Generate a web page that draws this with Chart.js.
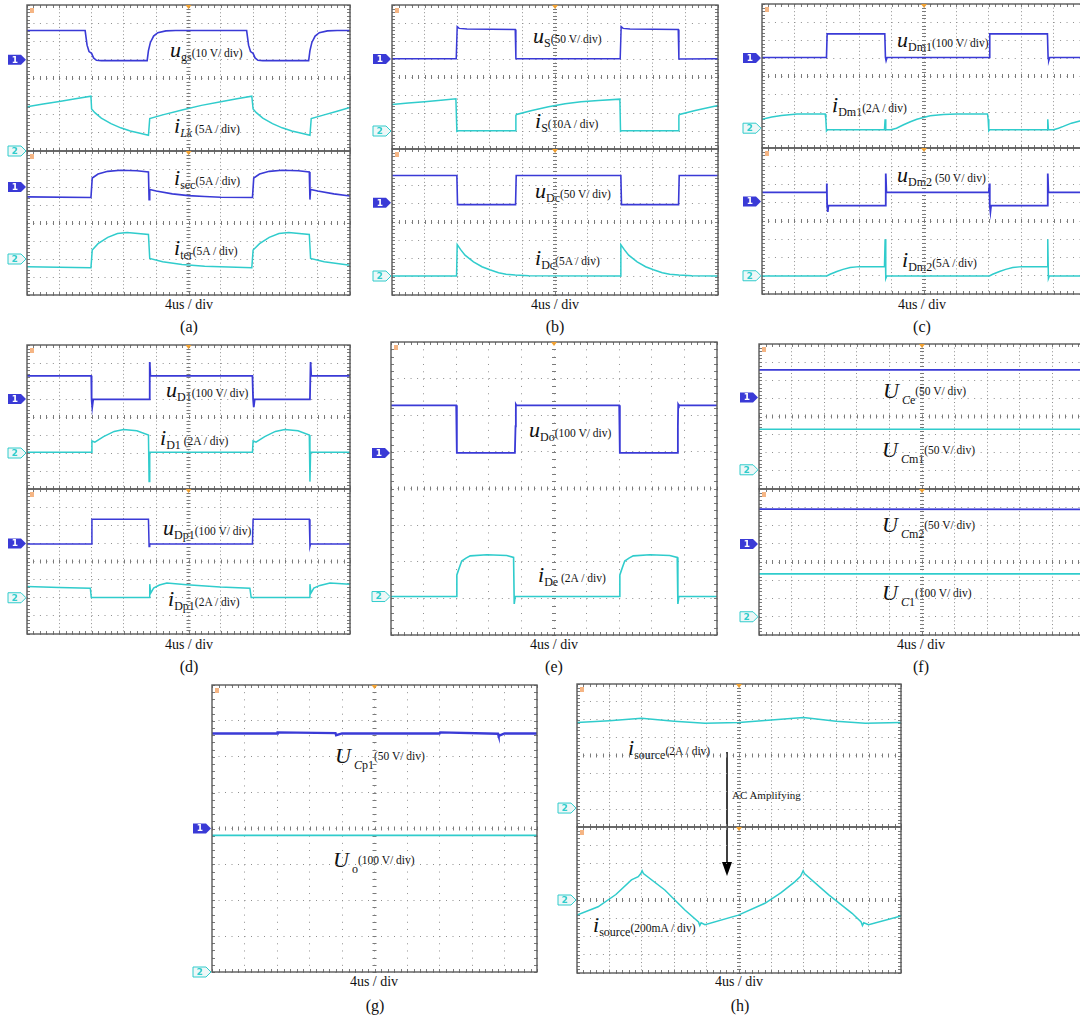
<!DOCTYPE html>
<html lang="en">
<head>
<meta charset="UTF-8">
<title>Experimental waveforms</title>
<script src="https://cdn.jsdelivr.net/npm/chart.js"></script>
<style>
  body { margin:0; width:1080px; height:1020px; overflow:hidden; background:#fff; position:relative; font-family:'Liberation Serif','Times New Roman',serif; color:#111; }
  canvas { position:absolute; }
  .lbl { position:absolute; font-size:22px; line-height:22px; white-space:nowrap; }
  .lbl i { font-style:italic; }
  .lbl sub { font-size:12px; line-height:0; vertical-align:-4px; }
  .lbl .u { font-size:11.5px; line-height:0; }
  .lbl.hi sub { vertical-align:-6px; }
  .lbl.hi .u { vertical-align:3px; }
  .cap { position:absolute; width:120px; margin-left:-60px; text-align:center; font-size:14px; line-height:14px; }
  .tag { font-size:16px; line-height:16px; }
  .note { position:absolute; font-size:11px; line-height:11px; white-space:nowrap; }
  svg { position:absolute; overflow:visible; }
</style>
</head>
<body>

<!-- trace labels -->
<div class="lbl" style="left:170px;top:39px"><i>u</i><sub>gs</sub><span class="u">(10 V/ div)</span></div>
<div class="lbl" style="left:174px;top:115px"><i>i</i><sub><i>Lk</i></sub><span class="u"> (5A / div)</span></div>
<div class="lbl" style="left:174px;top:167px"><i>i</i><sub>sec</sub><span class="u">(5A / div)</span></div>
<div class="lbl" style="left:174px;top:237px"><i>i</i><sub>ter</sub><span class="u">(5A / div)</span></div>

<div class="lbl" style="left:533px;top:25px"><i>u</i><sub>S</sub><span class="u">(50 V/ div)</span></div>
<div class="lbl" style="left:535px;top:110px"><i>i</i><sub>S</sub><span class="u">(10A / div)</span></div>
<div class="lbl" style="left:535px;top:180px"><i>u</i><sub>Dc</sub><span class="u">(50 V/ div)</span></div>
<div class="lbl" style="left:535px;top:247px"><i>i</i><sub>Dc</sub><span class="u">(5A / div)</span></div>

<div class="lbl" style="left:897px;top:29px"><i>u</i><sub>Dm1</sub><span class="u">(100 V/ div)</span></div>
<div class="lbl" style="left:832px;top:94px"><i>i</i><sub>Dm1</sub><span class="u">(2A / div)</span></div>
<div class="lbl" style="left:897px;top:164px"><i>u</i><sub>Dm2</sub><span class="u"> (50 V/ div)</span></div>
<div class="lbl" style="left:902px;top:249px"><i>i</i><sub>Dm2</sub><span class="u">(5A / div)</span></div>

<div class="lbl" style="left:166px;top:379px"><i>u</i><sub>D1</sub><span class="u">(100 V/ div)</span></div>
<div class="lbl" style="left:160px;top:427px"><i>i</i><sub>D1</sub><span class="u"> (2A / div)</span></div>
<div class="lbl" style="left:163px;top:517px"><i>u</i><sub>Dp1</sub><span class="u">(100 V/ div)</span></div>
<div class="lbl" style="left:168px;top:588px"><i>i</i><sub>Dp1</sub><span class="u">(2A / div)</span></div>

<div class="lbl" style="left:529px;top:419px"><i>u</i><sub>Do</sub><span class="u">(100 V/ div)</span></div>
<div class="lbl" style="left:538px;top:564px"><i>i</i><sub>De</sub><span class="u"> (2A / div)</span></div>

<div class="lbl hi" style="left:883px;top:380px"><i>U</i><sub>&nbsp;<i>C</i>e</sub><span class="u">(50 V/ div)</span></div>
<div class="lbl hi" style="left:882px;top:439px"><i>U</i><sub>&nbsp;<i>C</i>m1</sub><span class="u">(50 V/ div)</span></div>
<div class="lbl hi" style="left:882px;top:514px"><i>U</i><sub>&nbsp;<i>C</i>m2</sub><span class="u">(50 V/ div)</span></div>
<div class="lbl hi" style="left:882px;top:582px"><i>U</i><sub>&nbsp;<i>C</i>1</sub><span class="u">(100 V/ div)</span></div>

<div class="lbl hi" style="left:335px;top:745px"><i>U</i><sub>&nbsp;<i>C</i>p1</sub><span class="u">(50 V/ div)</span></div>
<div class="lbl hi" style="left:333px;top:849px"><i>U</i><sub>&nbsp;o</sub><span class="u">(100 V/ div)</span></div>

<div class="lbl" style="left:628px;top:737px"><i>i</i><sub>source</sub><span class="u">(2A / div)</span></div>
<div class="lbl" style="left:593px;top:914px"><i>i</i><sub>source</sub><span class="u">(200mA / div)</span></div>

<div class="note" style="left:732px;top:790px">AC Amplifying</div>
<svg style="left:0;top:0" width="1" height="1">
  <line x1="727" y1="752" x2="727" y2="864" stroke="#000" stroke-width="1.5"/>
  <polygon points="722,862 732,862 727,876" fill="#000"/>
</svg>

<!-- time base and panel tags -->
<div class="cap" style="left:189px;top:298px">4us / div</div>
<div class="cap" style="left:555px;top:298px">4us / div</div>
<div class="cap" style="left:922px;top:298px">4us / div</div>
<div class="cap" style="left:189px;top:638px">4us / div</div>
<div class="cap" style="left:554px;top:638px">4us / div</div>
<div class="cap" style="left:921px;top:638px">4us / div</div>
<div class="cap" style="left:374px;top:975px">4us / div</div>
<div class="cap" style="left:739px;top:975px">4us / div</div>

<div class="cap tag" style="left:189px;top:319px">(a)</div>
<div class="cap tag" style="left:555px;top:319px">(b)</div>
<div class="cap tag" style="left:922px;top:319px">(c)</div>
<div class="cap tag" style="left:189px;top:659px">(d)</div>
<div class="cap tag" style="left:554px;top:659px">(e)</div>
<div class="cap tag" style="left:921px;top:659px">(f)</div>
<div class="cap tag" style="left:375px;top:998px">(g)</div>
<div class="cap tag" style="left:740px;top:998px">(h)</div>

<script>
const ugs = [[0,6.6],[1.8,6.6],[1.86,5.8],[1.92,5.45],[2.0,5.35],[2.06,5.1],[2.15,4.97],[2.3,4.95],[3.72,4.95],[3.76,5.5],[3.82,5.95],[3.92,6.3],[4.05,6.48],[4.3,6.58],[4.6,6.6],[6.8,6.6],[6.86,5.8],[6.92,5.45],[7.0,5.35],[7.06,5.1],[7.15,4.97],[7.3,4.95],[8.72,4.95],[8.76,5.5],[8.82,5.95],[8.92,6.3],[9.05,6.48],[9.3,6.58],[9.6,6.6],[10,6.6]];
const iLk = [[0,2.42],[0.5,2.57],[1.0,2.71],[1.5,2.86],[1.98,3.0],[2.0,2.3],[2.1,2.1],[2.3,1.8],[2.6,1.5],[2.9,1.27],[3.2,1.1],[3.5,0.97],[3.76,0.86],[3.8,1.78],[4.2,1.98],[4.8,2.25],[5.4,2.5],[6.0,2.7],[6.5,2.86],[6.96,3.0],[7.0,2.3],[7.1,2.1],[7.3,1.8],[7.6,1.5],[7.9,1.27],[8.2,1.1],[8.5,0.97],[8.76,0.86],[8.8,1.78],[9.2,1.98],[9.6,2.18],[10,2.38]];
const isec = [[0,5.45],[1.98,5.42],[2.02,6.5],[2.2,6.72],[2.5,6.87],[2.9,6.93],[3.4,6.9],[3.76,6.84],[3.78,5.3],[3.8,5.86],[4.0,5.78],[4.5,5.62],[5.0,5.52],[5.5,5.47],[6.0,5.43],[6.98,5.42],[7.02,6.5],[7.2,6.72],[7.5,6.87],[7.9,6.93],[8.4,6.9],[8.74,6.84],[8.76,5.3],[8.78,5.86],[9.0,5.78],[9.5,5.62],[10,5.5]];
const iter = [[0,1.57],[1.98,1.52],[2.02,2.5],[2.2,2.85],[2.5,3.2],[2.8,3.42],[3.1,3.47],[3.76,3.36],[3.8,2.03],[4.2,1.85],[4.8,1.7],[5.5,1.6],[6.96,1.52],[7.0,2.5],[7.2,2.85],[7.5,3.2],[7.8,3.42],[8.1,3.47],[8.74,3.36],[8.78,2.03],[9.2,1.85],[10,1.65]];

const uS = [[0,5.02],[1.97,5.02],[2.0,6.8],[2.06,6.7],[2.3,6.66],[3.78,6.64],[3.8,5.02],[7.0,5.02],[7.03,6.8],[7.09,6.7],[7.3,6.66],[8.78,6.64],[8.8,5.0],[10,5.02]];
const iS = [[0,2.47],[0.5,2.55],[1.0,2.63],[1.5,2.71],[1.96,2.79],[1.99,0.98],[2.05,1.02],[3.78,1.02],[3.8,1.86],[3.82,1.92],[4.29,2.14],[4.8,2.35],[5.31,2.51],[5.8,2.62],[6.33,2.7],[6.99,2.77],[7.01,0.98],[7.05,1.02],[8.78,1.02],[8.8,1.86],[8.82,1.92],[9.3,2.14],[10,2.42]];
const uDc = [[0,6.55],[1.99,6.55],[2.01,4.95],[3.79,4.95],[3.81,6.55],[7.02,6.55],[7.04,4.95],[8.79,4.95],[8.81,6.55],[10,6.55]];
const iDc = [[0,1.04],[1.98,1.04],[2.0,2.76],[2.1,2.5],[2.24,2.18],[2.5,1.82],[2.76,1.55],[3.0,1.38],[3.27,1.22],[3.5,1.14],[3.78,1.09],[4.2,1.05],[7.0,1.04],[7.02,2.76],[7.12,2.5],[7.26,2.18],[7.52,1.82],[7.78,1.55],[8.02,1.38],[8.29,1.22],[8.52,1.14],[8.8,1.09],[9.2,1.05],[10,1.04]];

const uDm1 = [[0,5.03],[1.99,5.03],[2.01,6.34],[3.79,6.34],[3.81,5.03],[3.83,4.85],[3.86,5.03],[7.01,5.03],[7.03,6.34],[8.81,6.34],[8.83,5.03],[8.85,4.85],[8.88,5.03],[10,5.03]];
const iDm1 = [[0,1.6],[0.3,1.72],[0.6,1.8],[1.08,1.89],[1.95,1.89],[1.97,1.6],[1.99,0.95],[2.02,1.02],[3.78,1.02],[3.8,1.6],[3.82,1.02],[3.98,1.02],[4.15,1.1],[4.37,1.29],[4.58,1.46],[4.78,1.6],[5.19,1.79],[5.6,1.86],[6.01,1.89],[6.96,1.89],[6.98,1.6],[7.0,0.95],[7.03,1.02],[8.8,1.02],[8.82,1.6],[8.84,1.02],[9.0,1.02],[9.15,1.1],[9.3,1.2],[9.55,1.38],[9.81,1.5],[10,1.57]];
const uDm2 = [[0,5.57],[1.98,5.57],[2.0,6.05],[2.01,4.84],[2.03,4.5],[2.05,4.84],[3.8,4.84],[3.82,6.6],[3.84,5.57],[7.0,5.57],[7.02,6.05],[7.03,4.84],[7.05,4.5],[7.07,4.84],[8.8,4.84],[8.82,6.6],[8.84,5.57],[10,5.57]];
const iDm2 = [[0,0.99],[2.0,0.99],[2.1,1.08],[2.31,1.23],[2.5,1.35],[2.72,1.45],[3.0,1.5],[3.78,1.5],[3.8,3.0],[3.82,0.85],[3.85,0.99],[7.02,0.99],[7.12,1.08],[7.33,1.23],[7.52,1.35],[7.74,1.45],[8.02,1.5],[8.8,1.5],[8.82,3.0],[8.84,0.85],[8.87,0.99],[10,0.99]];

const uD1 = [[0,6.28],[1.99,6.28],[2.0,4.98],[2.02,4.55],[2.05,4.98],[3.78,4.98],[3.8,7.05],[3.82,6.28],[6.98,6.28],[7.0,4.98],[7.02,4.55],[7.05,4.98],[8.76,4.98],[8.78,7.05],[8.8,6.28],[10,6.28]];
const iD1 = [[0,2.04],[1.99,2.04],[2.01,2.67],[2.1,2.6],[2.37,2.91],[2.7,3.2],[2.99,3.31],[3.4,3.24],[3.76,3.0],[3.78,0.41],[3.8,2.04],[6.98,2.04],[7.0,2.67],[7.09,2.6],[7.36,2.91],[7.69,3.2],[7.98,3.31],[8.39,3.24],[8.74,3.0],[8.76,0.41],[8.78,2.04],[10,2.04]];
const uDp1 = [[0,4.97],[1.99,4.97],[2.01,6.33],[3.76,6.33],[3.78,4.83],[3.8,4.97],[6.98,4.97],[7.0,6.33],[8.74,6.33],[8.76,4.83],[8.78,4.97],[10,4.97]];
const iDp1 = [[0,2.62],[1.0,2.57],[1.96,2.53],[1.99,2.02],[3.78,2.02],[3.8,2.75],[3.83,2.25],[3.92,2.53],[4.1,2.7],[4.33,2.81],[4.95,2.72],[5.98,2.59],[6.9,2.53],[6.94,2.02],[8.74,2.02],[8.76,2.75],[8.79,2.25],[8.88,2.53],[9.07,2.68],[9.38,2.81],[10,2.75]];

const uDo = [[0,6.27],[2.0,6.27],[2.02,4.97],[3.8,4.97],[3.82,5.7],[3.83,6.3],[3.85,6.27],[7.0,6.27],[7.02,4.97],[8.78,4.97],[8.8,5.7],[8.81,6.3],[8.83,6.27],[10,6.27]];
const iDe = [[0,1.05],[2.0,1.05],[2.02,1.64],[2.1,1.85],[2.17,2.02],[2.3,2.1],[2.43,2.16],[2.94,2.19],[3.55,2.17],[3.76,2.12],[3.78,0.85],[3.81,1.05],[7.0,1.05],[7.02,1.64],[7.1,1.85],[7.17,2.02],[7.3,2.1],[7.43,2.16],[7.94,2.19],[8.55,2.17],[8.78,2.12],[8.8,0.85],[8.83,1.05],[10,1.05]];

const UCe  = [[0,6.57],[10,6.57]];
const UCm1 = [[0,3.3],[10,3.3]];
const UCm2 = [[0,6.9],[10,6.88]];
const UC1  = [[0,3.35],[10,3.35]];

const UCp1 = [[0,6.65],[2.0,6.65],[2.02,6.68],[3.8,6.66],[3.82,6.6],[4.0,6.65],[7.0,6.65],[7.02,6.68],[8.8,6.64],[8.82,6.58],[9.0,6.65],[10,6.65]];
const Uo   = [[0,3.81],[10,3.81]];

const isource   = [[0,5.84],[1.0,5.95],[1.99,6.08],[3.0,5.92],[3.95,5.8],[5.0,5.85],[6.0,5.98],[6.99,6.12],[8.0,5.92],[8.9,5.8],[10,5.84]];
const isourceAC = [[0,3.17],[0.65,3.63],[1.2,4.3],[1.68,5.1],[1.89,5.28],[1.97,5.45],[2.01,5.6],[2.05,5.45],[2.71,4.55],[3.33,3.45],[3.75,2.8],[3.79,2.6],[3.83,2.75],[3.95,2.65],[4.98,3.17],[5.8,3.82],[6.3,4.4],[6.73,5.01],[6.9,5.3],[6.98,5.6],[7.02,5.45],[7.77,4.28],[8.49,3.27],[8.77,2.8],[8.81,2.6],[8.85,2.75],[9.0,2.65],[10,3.12]];

const BLUE = '#3a3ad6';
const CYAN = '#30cccc';

// one scope screen per entry: frame position on the page, traces [data, colour, width], channel flags [channel, level]
const screens = [
  { left:27,  top:5,   w:323, h:146, traces:[[ugs,BLUE,1.6],[iLk,CYAN,1.5]],   flags:[[1,5],[2,0]] },
  { left:27,  top:151, w:323, h:144, traces:[[isec,BLUE,1.6],[iter,CYAN,1.5]], flags:[[1,6],[2,2]] },
  { left:392, top:5,   w:326, h:144, traces:[[uS,BLUE,1.5],[iS,CYAN,1.5]],     flags:[[1,5],[2,1]] },
  { left:392, top:149, w:326, h:146, traces:[[uDc,BLUE,1.6],[iDc,CYAN,1.5]],   flags:[[1,5.05],[2,1.04]] },
  { left:762, top:4,   w:324, h:144, traces:[[uDm1,BLUE,1.6],[iDm1,CYAN,1.5]], flags:[[1,5],[2,1.1]] },
  { left:762, top:148, w:324, h:146, traces:[[uDm2,BLUE,1.8],[iDm2,CYAN,1.5]], flags:[[1,5.07],[2,1]] },
  { left:27,  top:345, w:323, h:144, traces:[[uD1,BLUE,1.8],[iD1,CYAN,1.5]],   flags:[[1,5],[2,2]] },
  { left:27,  top:489, w:323, h:145, traces:[[uDp1,BLUE,1.5],[iDp1,CYAN,1.5]], flags:[[1,5],[2,2]] },
  { left:391, top:342, w:326, h:293, traces:[[uDo,BLUE,1.8],[iDe,CYAN,1.6]],   flags:[[1,4.97],[2,1.05]] },
  { left:759, top:344, w:326, h:145, traces:[[UCe,BLUE,1.6],[UCm1,CYAN,1.5]],  flags:[[1,5.05],[2,1.06]] },
  { left:759, top:489, w:326, h:146, traces:[[UCm2,BLUE,1.8],[UC1,CYAN,1.6]],  flags:[[1,4.98],[2,1]] },
  { left:212, top:685, w:325, h:287, traces:[[UCp1,BLUE,2.4],[Uo,CYAN,1.8]],   flags:[[1,4],[2,0]] },
  { left:577, top:684, w:324, h:143, traces:[[isource,CYAN,1.5]],              flags:[[2,1.06]] },
  { left:577, top:827, w:324, h:146, traces:[[isourceAC,CYAN,1.5]],            flags:[[2,4]] }
];

// frame, minor ticks, trigger marks and channel flags of a scope screen
const scopePlugin = {
  id: 'scope',
  beforeDatasetsDraw(chart) {
    const { ctx, chartArea: a, scales: { x, y } } = chart;
    const cx = x.getPixelForValue(5), cy = y.getPixelForValue(4);
    ctx.save();
    ctx.strokeStyle = '#7a7a7a';
    ctx.lineWidth = 1;
    ctx.beginPath();
    for (let i = 0; i <= 50; i++) {
      const px = Math.round(x.getPixelForValue(i / 5)) + 0.5;
      ctx.moveTo(px, cy - 2); ctx.lineTo(px, cy + 2);
      ctx.moveTo(px, a.top); ctx.lineTo(px, a.top + 3);
      ctx.moveTo(px, a.bottom); ctx.lineTo(px, a.bottom - 3);
    }
    for (let j = 0; j <= 40; j++) {
      const py = Math.round(y.getPixelForValue(j / 5)) + 0.5;
      ctx.moveTo(cx - 2, py); ctx.lineTo(cx + 2, py);
      ctx.moveTo(a.left, py); ctx.lineTo(a.left + 3, py);
      ctx.moveTo(a.right, py); ctx.lineTo(a.right - 3, py);
    }
    ctx.stroke();
    ctx.restore();
  },
  afterDatasetsDraw(chart, args, opts) {
    const { ctx, chartArea: a, scales: { y } } = chart;
    ctx.save();
    ctx.strokeStyle = '#5a5a5a';
    ctx.lineWidth = 1.4;
    ctx.strokeRect(a.left, a.top, a.right - a.left, a.bottom - a.top);

    // trigger position and reference marker
    const cx = (a.left + a.right) / 2;
    ctx.fillStyle = '#f0a030';
    ctx.beginPath();
    ctx.moveTo(cx - 3, a.top); ctx.lineTo(cx + 3, a.top); ctx.lineTo(cx, a.top + 4);
    ctx.fill();
    ctx.fillStyle = '#f5b584';
    ctx.fillRect(a.left + 3, a.top + 3, 4, 5);

    (opts.flags || []).forEach(([ch, lvl]) => {
      const py = y.getPixelForValue(lvl), L = a.left;
      ctx.beginPath();
      ctx.moveTo(L - 19, py - 5); ctx.lineTo(L - 6, py - 5); ctx.lineTo(L - 1, py);
      ctx.lineTo(L - 6, py + 5); ctx.lineTo(L - 19, py + 5); ctx.closePath();
      if (ch === 1) {
        ctx.fillStyle = BLUE; ctx.fill();
        ctx.fillStyle = '#fff';
      } else {
        ctx.fillStyle = '#eef7f7'; ctx.fill();
        ctx.strokeStyle = CYAN; ctx.lineWidth = 1; ctx.stroke();
        ctx.fillStyle = CYAN;
      }
      ctx.font = 'bold 9px "DejaVu Sans"';
      ctx.textAlign = 'center';
      ctx.textBaseline = 'middle';
      ctx.fillText(String(ch), L - 12, py + 0.5);
    });
    ctx.restore();
  }
};

const toXY = arr => arr.map(p => ({ x: p[0], y: p[1] }));

screens.forEach(s => {
  const padL = 22, padR = 8, padT = 6, padB = 6;
  const cv = document.createElement('canvas');
  cv.width = s.w + padL + padR;
  cv.height = s.h + padT + padB;
  cv.style.left = (s.left - padL) + 'px';
  cv.style.top = (s.top - padT) + 'px';
  document.body.appendChild(cv);

  const dotX = s.w / 50, dotY = s.h / 40;
  new Chart(cv, {
    type: 'line',
    data: {
      datasets: s.traces.map(([d, c, lw]) => ({
        data: toXY(d), borderColor: c, borderWidth: lw,
        pointRadius: 0, tension: 0, fill: false
      }))
    },
    options: {
      responsive: false,
      animation: false,
      events: [],
      layout: { padding: { left: padL, right: padR, top: padT, bottom: padB } },
      plugins: { legend: { display: false }, tooltip: { enabled: false }, scope: { flags: s.flags } },
      scales: {
        x: { type: 'linear', min: 0, max: 10, ticks: { stepSize: 1, display: false },
             grid: { color: '#8f8f8f', drawTicks: false }, border: { display: false, dash: [1, dotY - 1] } },
        y: { type: 'linear', min: 0, max: 8, ticks: { stepSize: 1, display: false },
             grid: { color: '#8f8f8f', drawTicks: false }, border: { display: false, dash: [1, dotX - 1] } }
      }
    },
    plugins: [scopePlugin]
  });
});
</script>
</body>
</html>
